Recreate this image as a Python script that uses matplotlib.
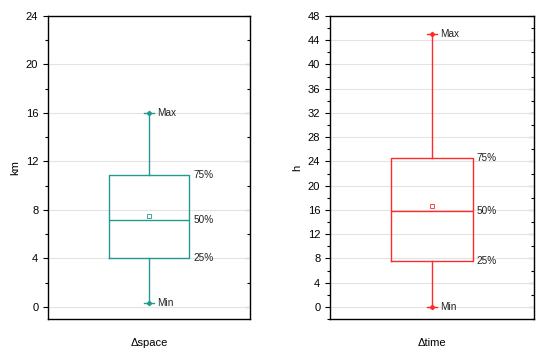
import numpy as np
import matplotlib.pyplot as plt
from matplotlib.ticker import MultipleLocator

plt.rcParams['font.family'] = ['Liberation Sans', 'DejaVu Sans']

# box statistics
names = ['\u0394space', '\u0394time']
units = ['km', 'h']
q1 = [4.0, 7.5]
med = [7.2, 15.8]
q3 = [10.9, 24.5]
mean = [7.5, 16.7]
lo = [0.3, 0.0]
hi = [16.0, 45.0]
colors = ['#23998f', '#ff2a2a']
ylims = [(-1, 24), (-2, 48)]
steps = [4, 4]

fig = plt.figure(figsize=(5.5, 3.53), dpi=100)
axes = [fig.add_axes([48/550, 1-319/353, 202/550, 303/353]),
        fig.add_axes([330/550, 1-319/353, 204/550, 303/353])]

for i, ax in enumerate(axes):
    c = colors[i]
    st = dict(med=med[i], q1=q1[i], q3=q3[i], whislo=lo[i], whishi=hi[i],
              mean=mean[i], fliers=[], label='')
    ax.bxp([st], positions=[0], widths=0.4, showmeans=True, capwidths=0.05,
           boxprops=dict(color=c, lw=1),
           medianprops=dict(color=c, lw=1),
           whiskerprops=dict(color=c, lw=1),
           capprops=dict(color=c, lw=1),
           meanprops=dict(marker='s', markersize=2.5, markerfacecolor='none',
                          markeredgecolor=c, markeredgewidth=0.6))
    ax.plot([0, 0], [lo[i], hi[i]], ls='none', marker='D', ms=2.2, color=c)
    ax.set_xlim(-0.5, 0.5)
    ax.set_ylim(*ylims[i])
    ax.yaxis.set_major_locator(MultipleLocator(steps[i]))
    ax.yaxis.set_minor_locator(MultipleLocator(steps[i]/2))
    ax.grid(axis='y', color='#e3e3e3', lw=0.8)
    ax.set_axisbelow(True)
    # outward ticks on the left, inward mirror ticks on the right
    ax.tick_params(axis='y', which='both', direction='out', left=True,
                   labelsize=8, width=0.8)
    ax.tick_params(axis='y', which='major', length=3.5)
    ax.tick_params(axis='y', which='minor', length=2)
    ax2 = ax.secondary_yaxis('right')
    ax2.yaxis.set_major_locator(MultipleLocator(steps[i]))
    ax2.yaxis.set_minor_locator(MultipleLocator(steps[i]/2))
    ax2.tick_params(which='both', direction='in', labelright=False, width=0.8)
    ax2.tick_params(which='major', length=3.5)
    ax2.tick_params(which='minor', length=2)
    ax2.spines['right'].set_visible(False)
    ax.set_xticks([])
    for s in ax.spines.values():
        s.set_linewidth(1.0)
    ax.set_ylabel(units[i], fontsize=8, labelpad=4)
    ax.set_xlabel(names[i], fontsize=8, labelpad=14)
    ax.text(0.04, hi[i], 'Max', fontsize=7.2, va='center', color='#222222')
    ax.text(0.04, lo[i], 'Min', fontsize=7.2, va='center', color='#222222')
    ax.text(0.22, q3[i], '75%', fontsize=7.2, va='center', color='#222222')
    ax.text(0.22, med[i], '50%', fontsize=7.2, va='center', color='#222222')
    ax.text(0.22, q1[i], '25%', fontsize=7.2, va='center', color='#222222')

fig.savefig('out.png', dpi=100)
